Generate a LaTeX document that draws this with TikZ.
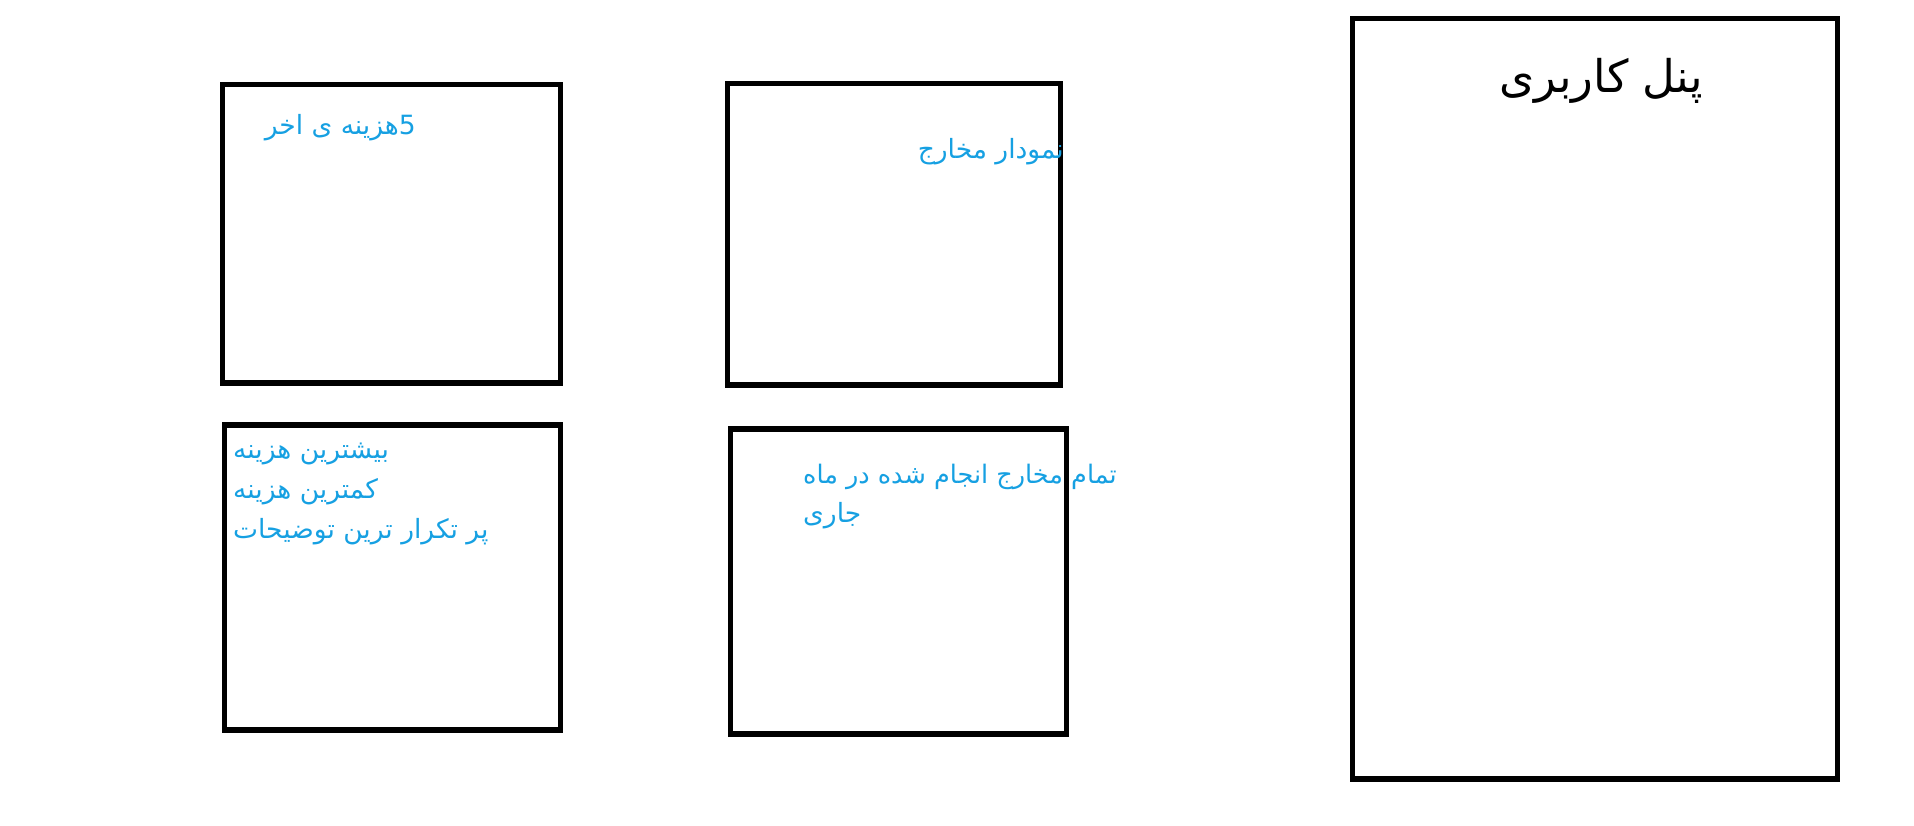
\documentclass[tikz,border=0pt]{standalone}
\usepackage{fontspec}
\newfontfamily\arabicfont[Script=Arabic]{DejaVu Sans}
\TeXXeTstate=1
\definecolor{txtblue}{RGB}{22,160,226}
\begin{document}
\begin{tikzpicture}[x=1pt,y=-1pt,
  box/.style={draw=black,line width=5.5pt,inner sep=0pt,anchor=north west},
  lbl/.style={font=\arabicfont\fontsize{26.5}{30}\selectfont,text=txtblue,inner sep=0pt},
  ttl/.style={font=\arabicfont\fontsize{45}{52}\selectfont,text=black,inner sep=0pt}]
\useasboundingbox (0,0) rectangle (1914,826);
% boxes
\node[box,minimum width=338pt,minimum height=298pt] (b1) at (219.5,82) {};
\node[box,minimum width=333pt,minimum height=301pt] (b2) at (724.5,81) {};
\node[box,minimum width=336pt,minimum height=305pt] (b3) at (221.5,422) {};
\node[box,minimum width=485pt,minimum height=760pt] (b5) at (1349.5,16) {};
% texts
\node[lbl,anchor=base east] (t1) at (416,135) {\beginR 5هزینه ی اخر\endR};
\node[lbl,anchor=base east] (t2) at (1064,159) {\beginR نمودار مخارج\endR};
\node[lbl,anchor=base west] (t3a) at (233,458) {\beginR بیشترین هزینه\endR};
\node[lbl,anchor=base west] (t3b) at (233,498) {\beginR کمترین هزینه\endR};
\node[lbl,anchor=base west] (t3c) at (233,538) {\beginR پر تکرار ترین توضیحات\endR};
\node[lbl,anchor=base west,font=\arabicfont\fontsize{25.5}{30}\selectfont] (t4a) at (803,483) {\beginR تمام مخارج انجام شده در ماه\endR};
\node[lbl,anchor=base west] (t4b) at (803,522) {\beginR جاری\endR};
\node[ttl,anchor=base] (title) at (1601,93) {\beginR پنل کاربری\endR};
% box drawn over its text
\node[box,minimum width=336pt,minimum height=305pt] (b4) at (727.5,426) {};
\end{tikzpicture}
\end{document}
